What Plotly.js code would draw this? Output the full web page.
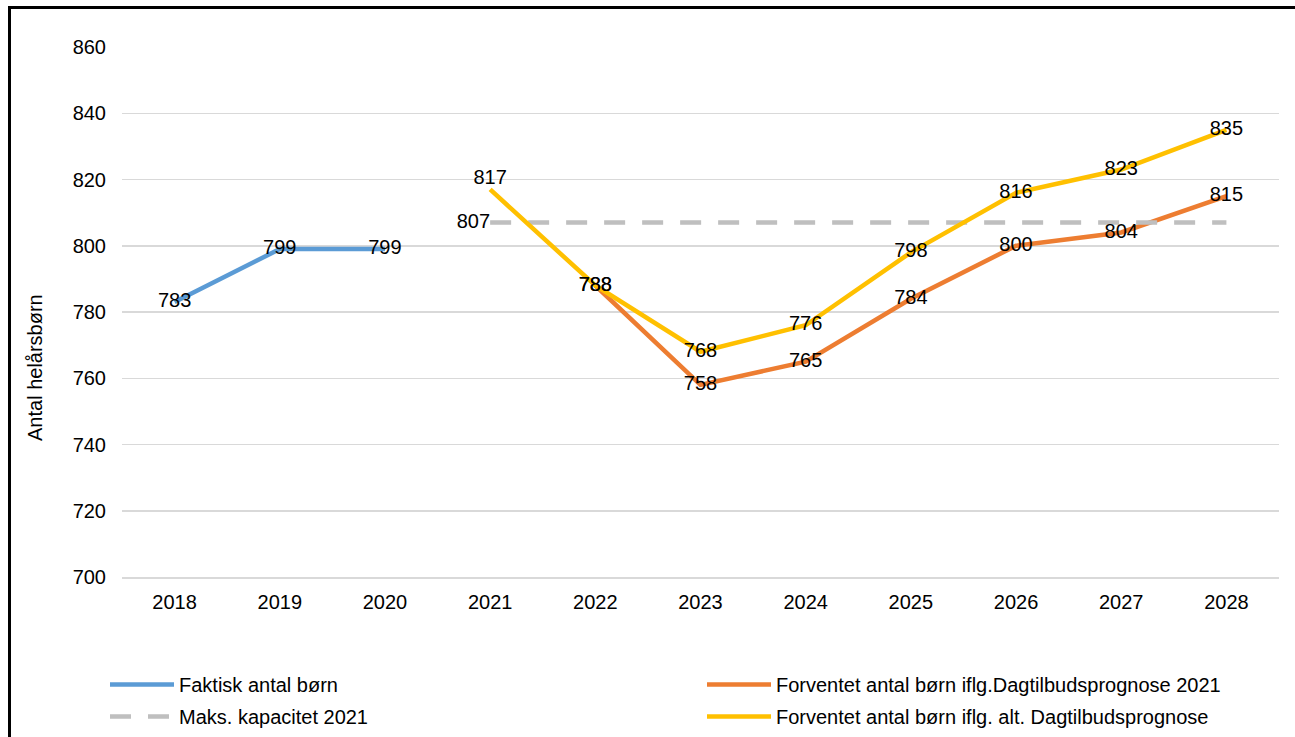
<!DOCTYPE html>
<html>
<head>
<meta charset="utf-8">
<script src="https://cdn.plot.ly/plotly-3.0.1.min.js"></script>
<style>
html,body{margin:0;padding:0;background:#fff;overflow:hidden;}
#chart{position:absolute;left:0;top:0;width:1295px;height:737px;}
#frame{position:absolute;left:8px;top:6px;width:1400px;height:800px;border-top:3px solid #000;border-left:3px solid #000;pointer-events:none;}
</style>
</head>
<body>
<div id="chart"></div>
<div id="frame"></div>
<script>
const years = ['2018','2019','2020','2021','2022','2023','2024','2025','2026','2027','2028'];
const faktisk = [783, 799, 799, null, null, null, null, null, null, null, null];
const prognose2021 = [null, null, null, null, 788, 758, 765, 784, 800, 804, 815];
const maksKapacitet = [null, null, null, 807, 807, 807, 807, 807, 807, 807, 807];
const prognoseAlt = [null, null, null, 817, 788, 768, 776, 798, 816, 823, 835];
const yTicks = [700, 720, 740, 760, 780, 800, 820, 840, 860];

const names = {
  faktisk: 'Faktisk antal børn',
  p2021: 'Forventet antal børn iflg.Dagtilbudsprognose 2021',
  maks: 'Maks. kapacitet 2021',
  alt: 'Forventet antal børn iflg. alt. Dagtilbudsprognose'
};

const FONT = 'Liberation Sans, Arial, sans-serif';
const fs = 20;

function labels(arr){ return arr.map(v => v == null ? '' : String(v)); }

const lineTraces = [
  {x: years, y: faktisk, name: names.faktisk, legend: 'legend', legendgroup: 'a', mode: 'lines', line: {color: '#5B9BD5', width: 4.5}, hoverinfo: 'skip'},
  {x: years, y: prognose2021, name: names.p2021, legend: 'legend2', legendgroup: 'c', mode: 'lines', line: {color: '#ED7D31', width: 4.5}, hoverinfo: 'skip'},
  {x: years, y: maksKapacitet, name: names.maks, legend: 'legend', legendgroup: 'b', mode: 'lines', line: {color: '#BFBFBF', width: 4.5, dash: '21px,17px'}, hoverinfo: 'skip'},
  {x: years, y: prognoseAlt, name: names.alt, legend: 'legend2', legendgroup: 'd', mode: 'lines', line: {color: '#FFC000', width: 4.5}, hoverinfo: 'skip'}
];

const maksText = maksKapacitet.map((v, i) => (v != null && (i === 0 || maksKapacitet[i-1] == null)) ? String(v) : '');
const altPos = prognoseAlt.map((v, i) => (i === 3 ? 'top center' : 'middle center'));

const textTraces = [
  {x: years, y: faktisk, text: labels(faktisk), mode: 'text', textposition: 'middle center'},
  {x: years, y: prognose2021, text: labels(prognose2021), mode: 'text', textposition: 'middle center'},
  {x: years, y: maksKapacitet, text: maksText, mode: 'text', textposition: 'middle left'},
  {x: years, y: prognoseAlt, text: labels(prognoseAlt), mode: 'text', textposition: altPos}
].map(t => Object.assign(t, {showlegend: false, hoverinfo: 'skip', textfont: {family: FONT, size: fs, color: '#000'}}));

function legendCfg(xpx){
  return {
    orientation: 'v', xref: 'container', yref: 'container',
    x: xpx/1295, y: 1 - 665/737, xanchor: 'left', yanchor: 'top',
    itemwidth: 64, tracegroupgap: 3,
    font: {family: FONT, size: fs, color: '#000'},
    bgcolor: 'rgba(0,0,0,0)', traceorder: 'grouped'
  };
}

const layout = {
  width: 1295, height: 737,
  margin: {l: 122, r: 16, t: 47, b: 160, autoexpand: false},
  paper_bgcolor: 'rgba(0,0,0,0)',
  plot_bgcolor: '#fff',
  font: {family: FONT, size: fs, color: '#000'},
  showlegend: true,
  xaxis: {
    type: 'category', categoryorder: 'array', categoryarray: years,
    range: [-0.5, 10.5], showgrid: false, zeroline: false,
    showline: true, linecolor: '#D9D9D9', linewidth: 1.5,
    ticks: '', ticklabelstandoff: 6, tickangle: 0, automargin: false,
    tickfont: {family: FONT, size: fs, color: '#000'}
  },
  yaxis: {
    range: [700, 860], tickvals: yTicks, ticktext: yTicks.map(String),
    showgrid: true, gridcolor: '#D9D9D9', gridwidth: 1.5, zeroline: false,
    showline: false, ticks: '', ticklabelstandoff: 15, automargin: false,
    tickfont: {family: FONT, size: fs, color: '#000'}
  },
  legend: legendCfg(105),
  legend2: legendCfg(702),
  annotations: [{
    text: 'Antal helårsbørn', xref: 'paper', yref: 'paper',
    x: (35 - 122) / 1157, y: (577 - 368) / 530, textangle: -90,
    showarrow: false, xanchor: 'center', yanchor: 'middle',
    font: {family: FONT, size: 20, color: '#000'}
  }]
};

Plotly.newPlot('chart', lineTraces.concat(textTraces), layout, {displayModeBar: false, staticPlot: true});
</script>
</body>
</html>
